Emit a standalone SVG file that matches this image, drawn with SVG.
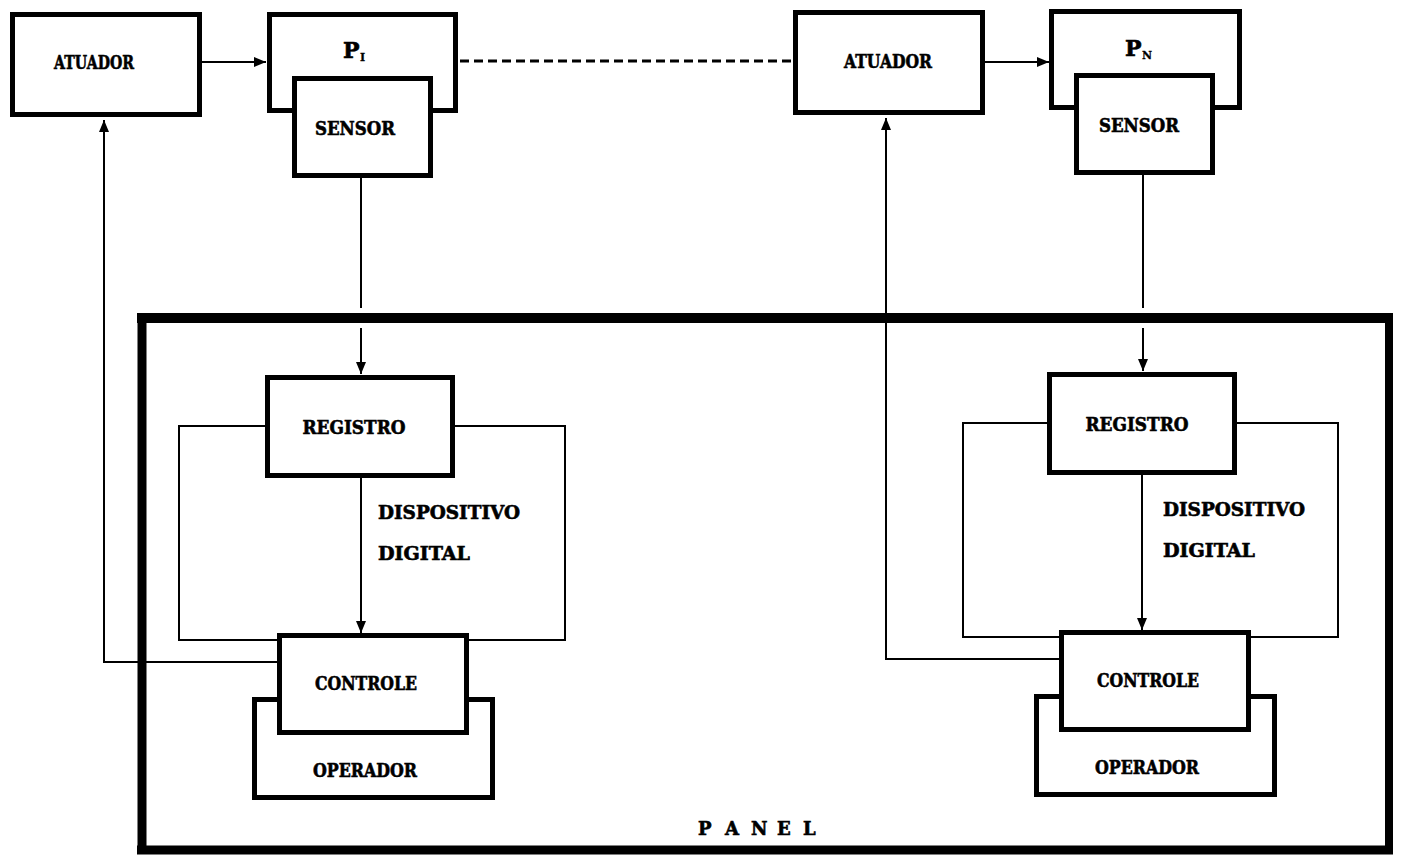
<svg xmlns="http://www.w3.org/2000/svg" width="1402" height="856" viewBox="0 0 1402 856">
<style>
.box{fill:none;stroke:#000;stroke-width:5;stroke-linejoin:miter}
.ln{fill:none;stroke:#000;stroke-width:2}
.dash{fill:none;stroke:#000;stroke-width:3;stroke-dasharray:9 5}
.panel{fill:none;stroke:#000}
text{font-family:"DejaVu Serif","Liberation Serif",serif;font-weight:bold;fill:#000;stroke:#000;stroke-width:0.6;font-size:18px}
.c{text-anchor:middle}
.big{font-size:22px}
.sub{font-size:11px;stroke-width:0.3}
</style>
<defs>
<marker id="ah" markerUnits="userSpaceOnUse" markerWidth="14" markerHeight="12" refX="12" refY="5" orient="auto">
<path d="M0,0 L12,5 L0,10 Z" fill="#000"/>
</marker>
</defs>
<rect width="1402" height="856" fill="#fff"/>

<g id="panel">
<line class="panel" x1="137" y1="318" x2="1393" y2="318" stroke-width="10"/>
<line class="panel" x1="137" y1="850" x2="1393" y2="850" stroke-width="9"/>
<line class="panel" x1="142" y1="314" x2="142" y2="854" stroke-width="9"/>
<line class="panel" x1="1389" y1="314" x2="1389" y2="854" stroke-width="8"/>
<text x="698 725 751 777 803" y="835">PANEL</text>
</g>

<g id="connectors">
<line class="ln" x1="202" y1="62" x2="266" y2="62" marker-end="url(#ah)"/>
<line class="dash" x1="460" y1="61" x2="791" y2="61"/>
<line class="ln" x1="985" y1="62" x2="1049" y2="62" marker-end="url(#ah)"/>
<path class="ln" d="M277 662 H104 V120" marker-end="url(#ah)"/>
<path class="ln" d="M1059 659 H886 V118" marker-end="url(#ah)"/>
<line class="ln" x1="361" y1="178" x2="361" y2="308"/>
<line class="ln" x1="361" y1="328" x2="361" y2="374" marker-end="url(#ah)"/>
<line class="ln" x1="1143" y1="175" x2="1143" y2="308"/>
<line class="ln" x1="1143" y1="328" x2="1143" y2="371" marker-end="url(#ah)"/>
<line class="ln" x1="361" y1="478" x2="361" y2="633" marker-end="url(#ah)"/>
<line class="ln" x1="1142" y1="475" x2="1142" y2="630" marker-end="url(#ah)"/>
<path class="ln" d="M266 426 H179 V640 H278"/>
<path class="ln" d="M454 426 H565 V640 H468"/>
<path class="ln" d="M1048 423 H963 V637 H1060"/>
<path class="ln" d="M1236 423 H1338 V637 H1250"/>
</g>

<g id="atuador1">
<rect class="box" x="12.5" y="14.5" width="187" height="100"/>
<text class="c" x="94" y="69" textLength="80" lengthAdjust="spacingAndGlyphs">ATUADOR</text>
</g>
<g id="p1">
<path class="box" d="M294.5 110.5 H269.5 V14.5 H455.5 V110.5 H431"/>
<text x="343" y="58" class="big">P</text>
<text x="360" y="61" class="sub">I</text>
</g>
<g id="sensor1">
<rect class="box" x="294.5" y="78.5" width="136" height="97"/>
<text class="c" x="355" y="135" textLength="80" lengthAdjust="spacingAndGlyphs">SENSOR</text>
</g>
<g id="registro1">
<rect class="box" x="267.5" y="377.5" width="185" height="98"/>
<text class="c" x="354" y="434" textLength="103" lengthAdjust="spacingAndGlyphs">REGISTRO</text>
</g>
<g id="dispositivo1">
<text x="378" y="519" textLength="142" lengthAdjust="spacingAndGlyphs">DISPOSITIVO</text>
<text x="378" y="560" textLength="92" lengthAdjust="spacingAndGlyphs">DIGITAL</text>
</g>
<g id="controle1">
<rect class="box" x="279.5" y="635.5" width="187" height="97"/>
<text class="c" x="366" y="690" textLength="102" lengthAdjust="spacingAndGlyphs">CONTROLE</text>
</g>
<g id="operador1">
<path class="box" d="M279.5 699.5 H254.5 V797.5 H492.5 V699.5 H466.5"/>
<text class="c" x="365" y="777" textLength="104" lengthAdjust="spacingAndGlyphs">OPERADOR</text>
</g>

<g id="atuador2">
<rect class="box" x="795.5" y="12.5" width="187" height="100"/>
<text class="c" x="888" y="68" textLength="88" lengthAdjust="spacingAndGlyphs">ATUADOR</text>
</g>
<g id="pn">
<path class="box" d="M1076.5 107.5 H1051.5 V11.5 H1239.5 V107.5 H1213"/>
<text x="1125" y="56" class="big">P</text>
<text x="1142" y="59" class="sub">N</text>
</g>
<g id="sensor2">
<rect class="box" x="1076.5" y="75.5" width="136" height="97"/>
<text class="c" x="1139" y="132" textLength="80" lengthAdjust="spacingAndGlyphs">SENSOR</text>
</g>
<g id="registro2">
<rect class="box" x="1049.5" y="374.5" width="185" height="98"/>
<text class="c" x="1137" y="431" textLength="103" lengthAdjust="spacingAndGlyphs">REGISTRO</text>
</g>
<g id="dispositivo2">
<text x="1163" y="516" textLength="142" lengthAdjust="spacingAndGlyphs">DISPOSITIVO</text>
<text x="1163" y="557" textLength="92" lengthAdjust="spacingAndGlyphs">DIGITAL</text>
</g>
<g id="controle2">
<rect class="box" x="1061.5" y="632.5" width="187" height="97"/>
<text class="c" x="1148" y="687" textLength="102" lengthAdjust="spacingAndGlyphs">CONTROLE</text>
</g>
<g id="operador2">
<path class="box" d="M1061.5 696.5 H1036.5 V794.5 H1274.5 V696.5 H1248.5"/>
<text class="c" x="1147" y="774" textLength="104" lengthAdjust="spacingAndGlyphs">OPERADOR</text>
</g>
</svg>
